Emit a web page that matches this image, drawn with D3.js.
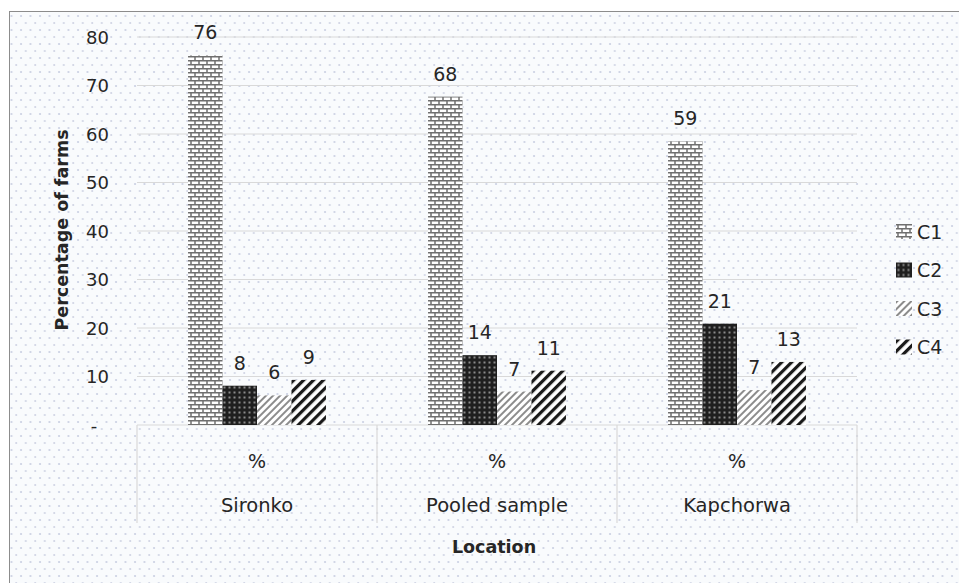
<!DOCTYPE html>
<html>
<head>
<meta charset="utf-8">
<script src="https://cdn.jsdelivr.net/npm/d3@7"></script>
<style>
  body { margin: 0; background: #fff; }
  text { font-family: "DejaVu Sans", "Noto Sans", sans-serif; fill: #262626; }
</style>
</head>
<body>
<svg id="chart" width="959" height="583"></svg>
<script>
// chart values
var locations = ["Sironko", "Pooled sample", "Kapchorwa"];
var subLabel = "%";
var series = ["C1", "C2", "C3", "C4"];
var sironko = [76.2, 8.1, 6.1, 9.3];
var pooled = [67.7, 14.4, 6.9, 11.2];
var kapchorwa = [58.5, 20.9, 7.2, 13.0];
var yTicks = [0, 10, 20, 30, 40, 50, 60, 70, 80];

var rows = [sironko, pooled, kapchorwa];

var svg = d3.select("#chart");
var defs = svg.append("defs");

// background dots
var bg = defs.append("pattern").attr("id", "bgdots")
  .attr("patternUnits", "userSpaceOnUse").attr("width", 9.5).attr("height", 14);
bg.append("rect").attr("width", 9.5).attr("height", 14).attr("fill", "#f9fbfd");
bg.append("circle").attr("cx", 2).attr("cy", 2).attr("r", 1).attr("fill", "#c6cce0");
bg.append("circle").attr("cx", 6.75).attr("cy", 9).attr("r", 1).attr("fill", "#cdd1e2");

// C1: brick
var p1 = defs.append("pattern").attr("id", "pC1")
  .attr("patternUnits", "userSpaceOnUse").attr("width", 8).attr("height", 8);
p1.append("rect").attr("width", 8).attr("height", 8).attr("fill", "#fff");
p1.append("path").attr("d", "M0,0.75H8M0,4.75H8M2,0.75V4.75M6,4.75V8.75")
  .attr("stroke", "#6f6f6f").attr("stroke-width", 1.5).attr("fill", "none");

// C2: dark with dots
var p2 = defs.append("pattern").attr("id", "pC2")
  .attr("patternUnits", "userSpaceOnUse").attr("width", 5).attr("height", 5);
p2.append("rect").attr("width", 5).attr("height", 5).attr("fill", "#1f1f1f");
p2.append("rect").attr("x", 1.5).attr("y", 1.5).attr("width", 2).attr("height", 2).attr("fill", "#8a8a8a");

// C3: light thin diagonals
var p3 = defs.append("pattern").attr("id", "pC3")
  .attr("patternUnits", "userSpaceOnUse").attr("width", 5).attr("height", 5)
  .attr("patternTransform", "rotate(45)");
p3.append("rect").attr("width", 5).attr("height", 5).attr("fill", "#fff");
p3.append("rect").attr("width", 2).attr("height", 5).attr("fill", "#8c8c8c");

// C4: wide dark diagonals
var p4 = defs.append("pattern").attr("id", "pC4")
  .attr("patternUnits", "userSpaceOnUse").attr("width", 7).attr("height", 7)
  .attr("patternTransform", "rotate(45)");
p4.append("rect").attr("width", 7).attr("height", 7).attr("fill", "#fff");
p4.append("rect").attr("width", 3.2).attr("height", 7).attr("fill", "#1a1a1a");

var fills = { C1: "url(#pC1)", C2: "url(#pC2)", C3: "url(#pC3)", C4: "url(#pC4)" };

// background + border
svg.append("rect").attr("x", 9.5).attr("y", 11.5).attr("width", 960).attr("height", 580)
  .attr("fill", "url(#bgdots)").attr("stroke", "#8c8c8c").attr("stroke-width", 1);

var plotLeft = 137, plotRight = 857, plotTop = 37, plotBottom = 425;

var x = d3.scaleBand().domain(locations).range([plotLeft, plotRight]).paddingInner(0).paddingOuter(0);
// four bars side by side, group centred in each category
var xs = d3.scaleBand().domain(series).range([0, x.bandwidth()]).paddingInner(0).paddingOuter(1.48);
var y = d3.scaleLinear().domain([0, 80]).range([plotBottom, plotTop]);

// gridlines
svg.append("g").selectAll("line").data(yTicks.slice(1)).enter().append("line")
  .attr("x1", plotLeft).attr("x2", plotRight)
  .attr("y1", function(d) { return y(d); }).attr("y2", function(d) { return y(d); })
  .attr("stroke", "#d9d9d9").attr("stroke-width", 1.2);

// y tick labels
svg.append("g").selectAll("text").data(yTicks).enter().append("text")
  .attr("x", function(d) { return d === 0 ? 94 : 109; })
  .attr("y", function(d) { return y(d) + 6.5; })
  .attr("text-anchor", function(d) { return d === 0 ? "middle" : "end"; })
  .style("font-size", "18px")
  .text(function(d) { return d === 0 ? "-" : d; });

// category axis: baseline and separators
svg.append("line").attr("x1", plotLeft).attr("x2", plotRight).attr("y1", plotBottom).attr("y2", plotBottom)
  .attr("stroke", "#d9d9d9").attr("stroke-width", 1.2);
svg.append("g").selectAll("line").data(d3.range(locations.length + 1)).enter().append("line")
  .attr("x1", function(i) { return plotLeft + i * x.bandwidth(); })
  .attr("x2", function(i) { return plotLeft + i * x.bandwidth(); })
  .attr("y1", plotBottom).attr("y2", 523)
  .attr("stroke", "#d9d9d9").attr("stroke-width", 1.2);

var cat = svg.append("g").selectAll("g").data(locations).enter().append("g")
  .attr("transform", function(d) { return "translate(" + x(d) + ",0)"; });

cat.append("text").attr("x", x.bandwidth() / 2).attr("y", 468)
  .attr("text-anchor", "middle").style("font-size", "19px").text(subLabel);
cat.append("text").attr("x", x.bandwidth() / 2).attr("y", 512)
  .attr("text-anchor", "middle").style("font-size", "19.5px").text(function(d) { return d; });

// bars
cat.selectAll("rect").data(function(d, i) {
    return series.map(function(s, j) { return { s: s, v: rows[i][j] }; });
  }).enter().append("rect")
  .attr("x", function(d) { return xs(d.s); })
  .attr("width", xs.bandwidth())
  .attr("y", function(d) { return y(d.v); })
  .attr("height", function(d) { return plotBottom - y(d.v); })
  .attr("fill", function(d) { return fills[d.s]; });

// value labels
cat.selectAll("text.val").data(function(d, i) {
    return series.map(function(s, j) { return { s: s, v: rows[i][j] }; });
  }).enter().append("text").attr("class", "val")
  .attr("x", function(d) { return xs(d.s) + xs.bandwidth() / 2; })
  .attr("y", function(d) { return y(d.v) - 16; })
  .attr("text-anchor", "middle").style("font-size", "19px")
  .text(function(d) { return Math.round(d.v); });

// axis titles
svg.append("text").attr("transform", "translate(68,230) rotate(-90)")
  .attr("text-anchor", "middle").style("font-size", "17.5px").style("font-weight", "bold")
  .text("Percentage of farms");
svg.append("text").attr("x", 494).attr("y", 553)
  .attr("text-anchor", "middle").style("font-size", "17.5px").style("font-weight", "bold")
  .text("Location");

// legend
var leg = svg.append("g").selectAll("g").data(series).enter().append("g")
  .attr("transform", function(d, i) { return "translate(896," + (224 + i * 38.5) + ")"; });
leg.append("rect").attr("width", 16).attr("height", 15)
  .attr("fill", function(d) { return fills[d]; });
leg.append("text").attr("x", 21).attr("y", 14.5).style("font-size", "19px")
  .text(function(d) { return d; });
</script>
</body>
</html>
